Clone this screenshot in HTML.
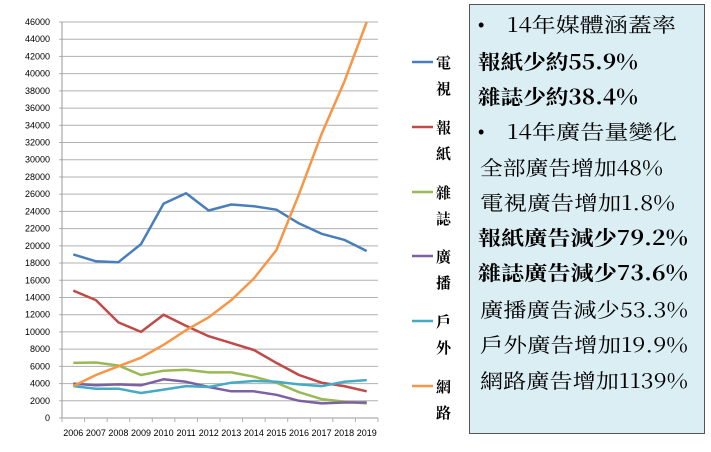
<!DOCTYPE html>
<html><head><meta charset="utf-8"><style>
html,body{margin:0;padding:0;background:#fff;}
svg{display:block;}
.ax{font-family:"Liberation Sans",sans-serif;font-size:9px;fill:#000;}
.lg{font-family:"Noto Serif CJK SC","Liberation Serif",serif;font-size:15px;font-weight:bold;fill:#000;}
.bx{font-family:"Noto Serif CJK SC","Liberation Serif","Noto Serif CJK TC",serif;font-size:20px;fill:#000;}
.b{font-weight:bold;}
.bul{font-family:"Liberation Sans",sans-serif;font-size:18px;}
</style></head><body>
<svg width="711" height="452" viewBox="0 0 711 452" xmlns="http://www.w3.org/2000/svg">
<g stroke="#b0b0b0" stroke-width="1" id="grid"></g>
<g id="ticks" class="ax"></g>
<g id="series" fill="none" stroke-width="2.5" stroke-linejoin="round"></g>
<g stroke-width="2.5">
<line x1="412" y1="62" x2="433" y2="62" stroke="#4a7ebb"/>
<line x1="412" y1="127" x2="433" y2="127" stroke="#be4b48"/>
<line x1="412" y1="192" x2="433" y2="192" stroke="#98b954"/>
<line x1="412" y1="256" x2="433" y2="256" stroke="#7d60a0"/>
<line x1="412" y1="321" x2="433" y2="321" stroke="#46aac5"/>
<line x1="412" y1="386" x2="433" y2="386" stroke="#f79646"/>
</g>
<g class="lg">
<text x="436" y="68">電</text><text x="436" y="94">視</text>
<text x="436" y="133">報</text><text x="436" y="159">紙</text>
<text x="436" y="198">雜</text><text x="436" y="224">誌</text>
<text x="436" y="262">廣</text><text x="436" y="288">播</text>
<text x="436" y="327">戶</text><text x="436" y="353">外</text>
<text x="436" y="392">網</text><text x="436" y="418">路</text>
</g>
<rect x="469.5" y="4.5" width="235" height="429" fill="#daeef3" stroke="#555" stroke-width="1"/>
<g class="bx">
<text class="bul" x="478" y="31">•</text>
<text x="507" y="32" textLength="169" lengthAdjust="spacingAndGlyphs">14年媒體涵蓋率</text>
<text class="b" x="478" y="69" textLength="160" lengthAdjust="spacingAndGlyphs">報紙少約55.9%</text>
<text class="b" x="478" y="104" textLength="160" lengthAdjust="spacingAndGlyphs">雜誌少約38.4%</text>
<text class="bul" x="478" y="138">•</text>
<text x="507" y="139" textLength="170" lengthAdjust="spacingAndGlyphs">14年廣告量變化</text>
<text x="480" y="175" textLength="183" lengthAdjust="spacingAndGlyphs">全部廣告增加48%</text>
<text x="480" y="210" textLength="195" lengthAdjust="spacingAndGlyphs">電視廣告增加1.8%</text>
<text class="b" x="478" y="245" textLength="210" lengthAdjust="spacingAndGlyphs">報紙廣告減少79.2%</text>
<text class="b" x="478" y="280" textLength="210" lengthAdjust="spacingAndGlyphs">雜誌廣告減少73.6%</text>
<text x="480" y="317" textLength="208" lengthAdjust="spacingAndGlyphs">廣播廣告減少53.3%</text>
<text x="480" y="352" textLength="208" lengthAdjust="spacingAndGlyphs">戶外廣告增加19.9%</text>
<text x="480" y="388" textLength="208" lengthAdjust="spacingAndGlyphs">網路廣告增加1139%</text>
</g>
</svg>
<script>
(function(){
var NS="http://www.w3.org/2000/svg";
var x0=62,x1=378,yTop=22,yBot=418,max=46000;
function Y(v){return yBot-(v/max)*(yBot-yTop);}
var cw=(x1-x0)/14;
function X(i){return x0+cw*(i+0.5);}
var g=document.getElementById("grid"),t=document.getElementById("ticks");
function el(p,n,a,txt){var e=document.createElementNS(NS,n);for(var k in a)e.setAttribute(k,a[k]);if(txt)e.textContent=txt;p.appendChild(e);return e;}
for(var v=0;v<=46000;v+=2000){var y=Y(v);
 if(v>0)el(g,"line",{x1:x0,x2:x1,y1:y,y2:y});
 el(g,"line",{x1:x0-3,x2:x0,y1:y,y2:y});
 el(t,"text",{x:50,y:y+3,"text-anchor":"end"},String(v));}
el(g,"line",{x1:x0,x2:x0,y1:yTop,y2:yBot,stroke:"#999"});
el(g,"line",{x1:x0,x2:x1,y1:yBot,y2:yBot,stroke:"#999"});
for(var i=0;i<=14;i++){var xx=x0+cw*i;el(g,"line",{x1:xx,x2:xx,y1:yBot,y2:yBot+4});}
for(var i=0;i<14;i++)el(t,"text",{x:X(i),y:436,"text-anchor":"middle"},String(2006+i));
var S=[
["#4a7ebb",[19000,18200,18100,20200,24900,26100,24100,24800,24600,24200,22600,21400,20700,19400]],
["#be4b48",[14800,13700,11100,10000,12000,10700,9500,8700,7900,6400,5000,4100,3700,3100]],
["#98b954",[6400,6450,6100,5000,5500,5600,5300,5300,4800,4100,3000,2200,1900,1700]],
["#7d60a0",[4000,3800,3900,3800,4500,4200,3600,3100,3100,2700,2000,1700,1800,1800]],
["#46aac5",[3700,3400,3400,2900,3300,3700,3600,4100,4300,4200,3900,3700,4200,4400]],
["#f79646",[3700,5000,6000,7000,8500,10200,11700,13700,16200,19500,26000,33000,39000,46000]]];
var sg=document.getElementById("series");
S.forEach(function(s){var pts=s[1].map(function(v,i){return X(i).toFixed(1)+","+Y(v).toFixed(1);}).join(" ");
 el(sg,"polyline",{points:pts,stroke:s[0]});});
})();
</script>
</body></html>
